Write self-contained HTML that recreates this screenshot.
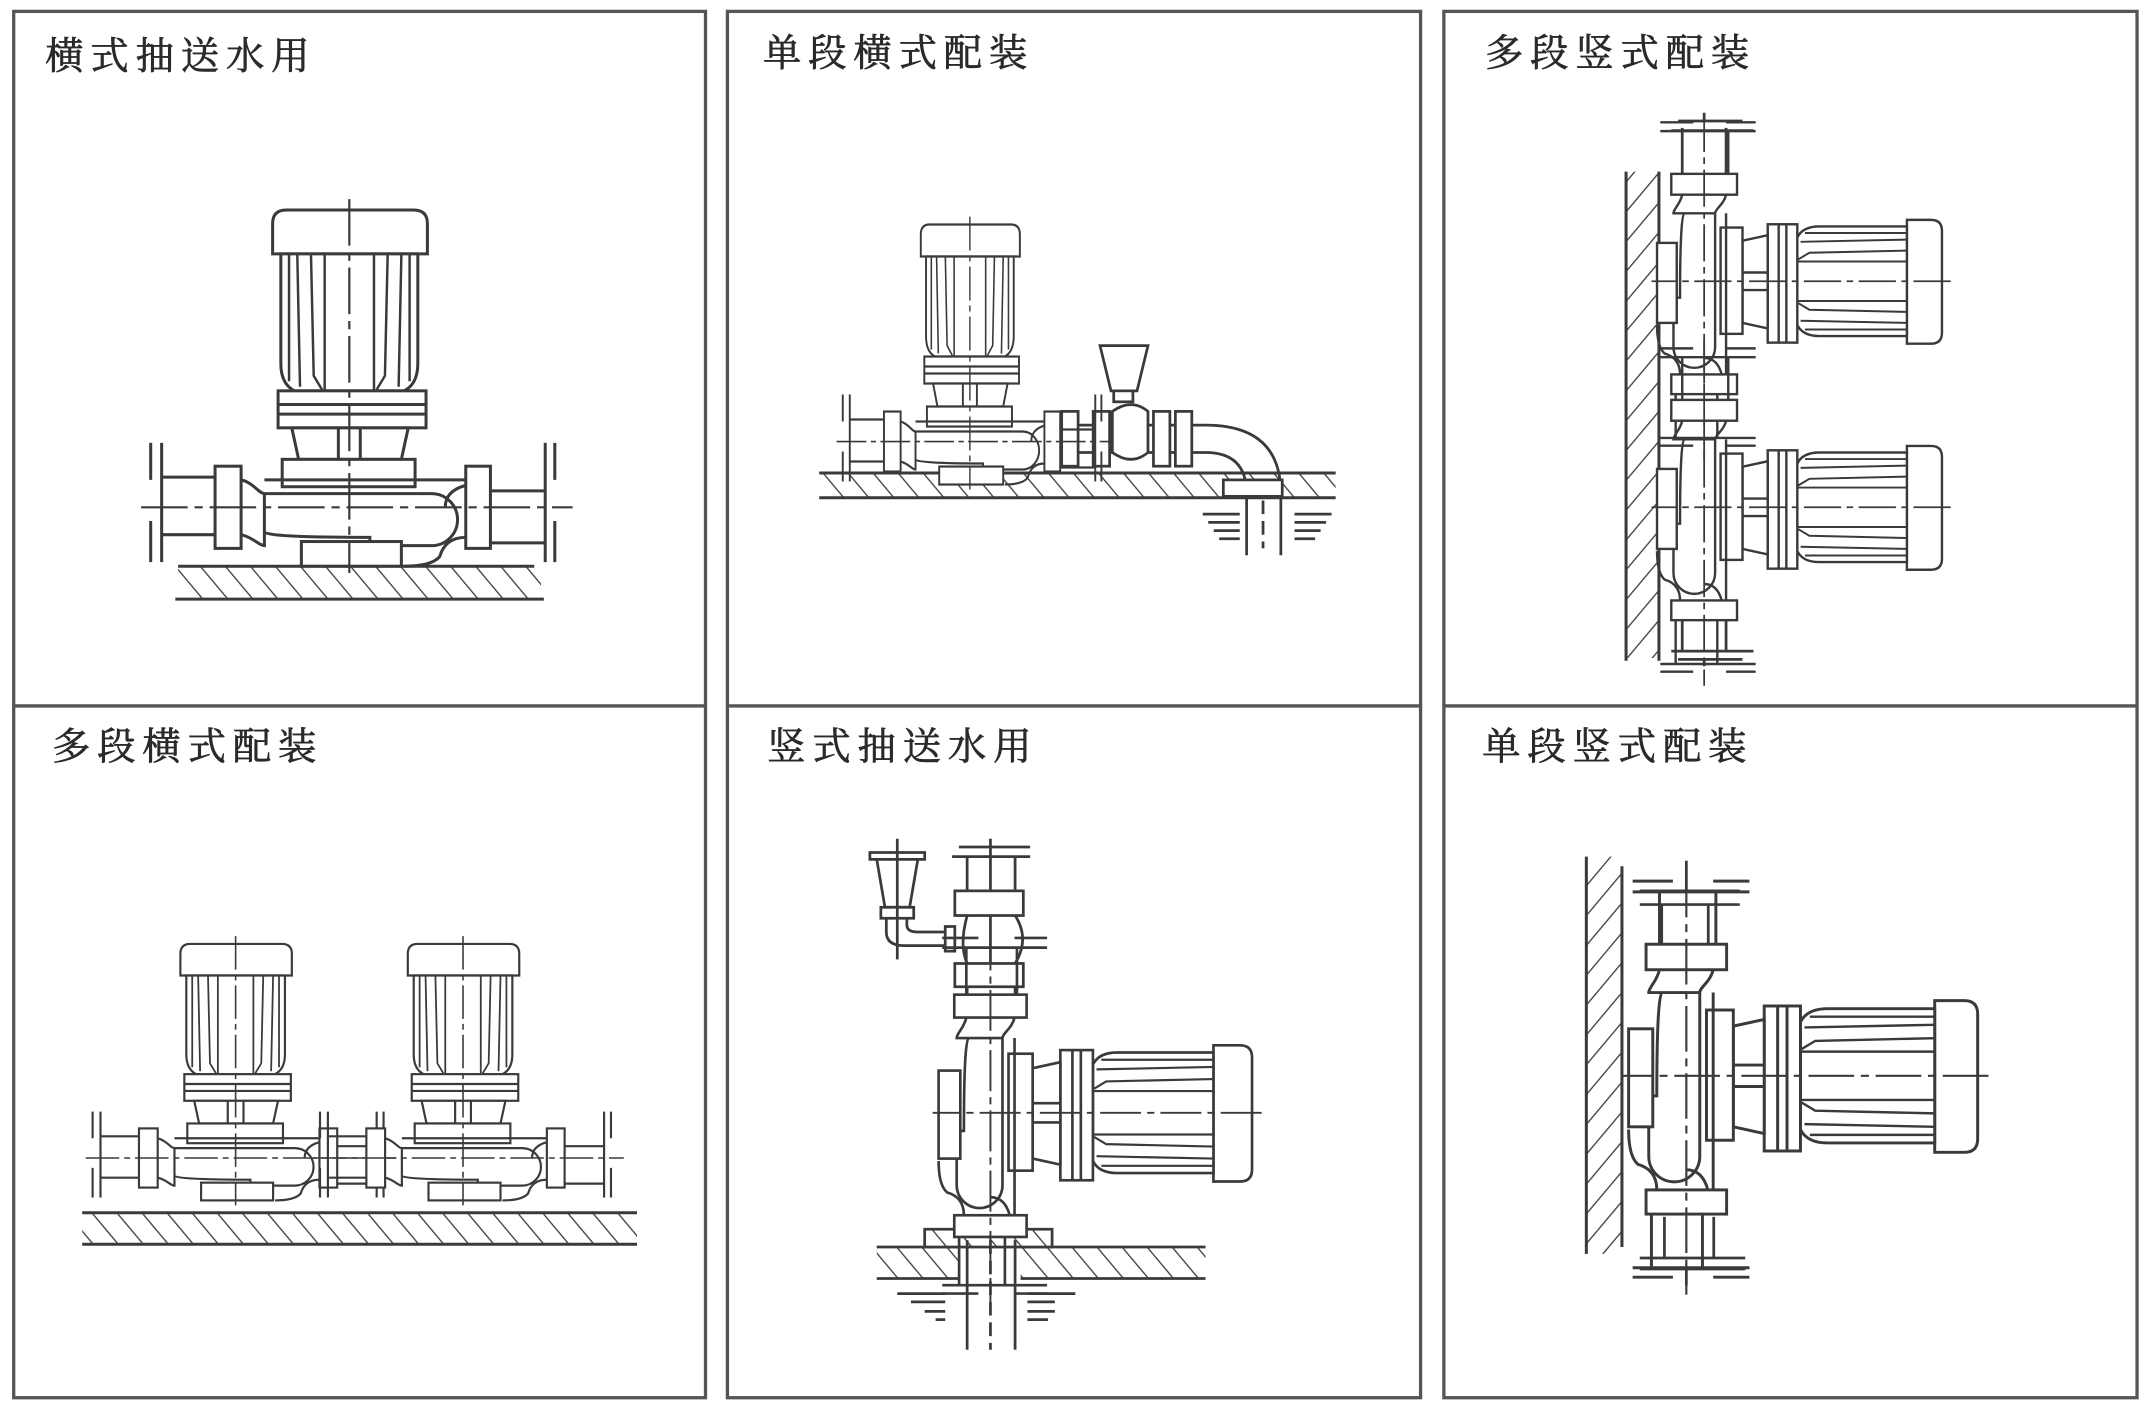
<!DOCTYPE html>
<html><head><meta charset="utf-8">
<style>
html,body{margin:0;padding:0;background:#fff;}
svg{display:block;}
.t{font-family:"Liberation Serif","Noto Serif CJK SC","Noto Sans CJK SC",serif;font-size:28px;fill:#2a2a2a;stroke:#2a2a2a;stroke-width:0.5;letter-spacing:5px;}
</style></head>
<body>
<svg width="2148" height="1405" viewBox="0 0 1568 1025" xmlns="http://www.w3.org/2000/svg">
<defs>
<pattern id="h1" width="14" height="14" patternUnits="userSpaceOnUse" patternTransform="rotate(-40)">
<rect width="14" height="14" fill="#fff"/><line x1="0" y1="0" x2="0" y2="14" stroke="#444" stroke-width="2"/></pattern>
<pattern id="h2" width="14" height="14" patternUnits="userSpaceOnUse" patternTransform="rotate(40)">
<rect width="14" height="14" fill="#fff"/><line x1="0" y1="0" x2="0" y2="14" stroke="#444" stroke-width="2"/></pattern>
<g id="vp" fill="#fff" stroke="#3a3a3a" stroke-width="2.2">
 <path d="M-56,-185 L-56,-207 Q-56,-217 -46,-217 L47,-217 Q57,-217 57,-207 L57,-185 Z"/>
 <path d="M-50,-185 L-50,-105 Q-50,-90 -40,-85 L40,-85 Q50,-90 50,-105 L50,-185 Z"/>
 <g fill="none" stroke-width="1.8">
 <path d="M-44,-185 L-44,-92 M-38,-185 L-36,-88 M-28,-185 L-26,-96 L-20,-86 M-18,-185 L-18,-86 M18,-185 L18,-86 M28,-185 L26,-96 L20,-86 M38,-185 L36,-88 M44,-185 L44,-92"/>
 </g>
 <rect x="-52" y="-85" width="108" height="27"/>
 <path d="M-52,-75 H56 M-52,-68 H56" fill="none"/>
 <path d="M-42,-58 L43,-58 L38,-35 L-37,-35 Z"/>
 <path d="M-8,-58 V-35 M8,-58 V-35" fill="none"/>
 <rect x="-49" y="-35" width="97" height="20"/>
 <path d="M-79,-20 C-70,-18 -66,-10 -62,-10 L60,-10 A19,19 0 0 1 60,28 L15,28 L15,22 Q-60,22 -62,18 L-62,28 C-66,28 -70,22 -79,20" fill="none"/>
 <path d="M-62,-20 H85 M-62,-10 V18" fill="none"/>
 <path d="M85,-16 Q70,-12 70,0 M85,22 Q70,22 66,36 Q60,43 40,43" fill="none"/>
 <path d="M-20,28 L-20,40" fill="none"/>
 <rect x="-35" y="25" width="73" height="18"/>
 <rect x="-98" y="-30" width="19" height="60"/>
 <rect x="85" y="-30" width="18" height="60"/>
 <path d="M-98,-22 H-137 M-98,20 H-137 M103,-12 H143 M103,26 H143" fill="none"/>
 <path d="M-137,-47 V40 M-145,-47 V-20 M-145,10 V40 M143,-47 V40 M150,-47 V-20 M150,10 V40" fill="none"/>
 <path d="M0,-225 V48 M-152,0 H163" fill="none" stroke-width="1.6" stroke-dasharray="34 5 6 5"/>
</g>
</defs>
<rect width="1568" height="1025" fill="#fff"/>
<g fill="none" stroke="#555" stroke-width="2.4">
<rect x="10" y="8" width="505" height="1012"/><line x1="10" y1="515" x2="515" y2="515"/>
<rect x="531" y="8" width="506" height="1012"/><line x1="531" y1="515" x2="1037" y2="515"/>
<rect x="1054" y="8" width="506" height="1012"/><line x1="1054" y1="515" x2="1560" y2="515"/>
</g>
<text class="t" x="33" y="50">横式抽送水用</text>
<text class="t" x="557" y="48">单段横式配装</text>
<text class="t" x="1084" y="48">多段竖式配装</text>
<text class="t" x="38" y="554">多段横式配装</text>
<text class="t" x="560" y="554">竖式抽送水用</text>
<text class="t" x="1082" y="554">单段竖式配装</text>

<!-- panel 1 -->
<rect x="130" y="413" width="265" height="24" fill="url(#h1)" stroke="none"/>
<path d="M130,413 H390 M128,437 H397" stroke="#3a3a3a" stroke-width="2.2"/>
<use href="#vp" transform="translate(255,370)"/>

<!-- panel 2 -->
<rect x="598" y="345" width="377" height="18" fill="url(#h1)"/>
<path d="M598,345 H975 M598,363 H975" stroke="#3a3a3a" stroke-width="2.2"/>
<g fill="#fff" stroke="#3a3a3a" stroke-width="2">
<path d="M770,310 H880 Q935,310 935,360 V405 M770,330 H880 Q910,330 910,360 V405" fill="none"/>
<path d="M922,365 V400" fill="none" stroke-dasharray="10 5"/>
<rect x="775" y="300" width="12" height="40"/><rect x="798" y="300" width="12" height="40"/>
<rect x="842" y="300" width="12" height="40"/><rect x="858" y="300" width="12" height="40"/>
<path d="M812,300 Q826,290 838,300 L838,330 Q826,340 812,330 Z"/>
<path d="M803,252 H838 L830,285 H811 Z"/><rect x="813" y="285" width="14" height="8"/>
<rect x="893" y="350" width="43" height="12"/>
<path d="M878,375 H905 M882,381 H905 M886,387 H905 M890,393 H905 M945,375 H972 M945,381 H968 M945,387 H964 M945,393 H960" fill="none"/>
</g>
<use href="#vp" transform="translate(708,322) scale(0.64,0.73)"/>

<!-- panel 4 -->
<rect x="60" y="885" width="405" height="23" fill="url(#h1)"/>
<path d="M60,885 H465 M60,908 H465" stroke="#3a3a3a" stroke-width="2.2"/>
<use href="#vp" transform="translate(172,845) scale(0.72)"/>
<use href="#vp" transform="translate(338,845) scale(0.72)"/>

<!-- panel 3 -->
<rect x="1187" y="125" width="24" height="355" fill="url(#h2)"/>
<path d="M1187,125 V482 M1211,125 V482" stroke="#3a3a3a" stroke-width="2.2"/>
<g stroke="#3a3a3a" stroke-width="2" fill="none">
<path d="M1228,93 V130 M1260,93 V130 M1220,95 H1280 M1225,88 H1272 M1228,440 V475 M1260,440 V475 M1220,475 H1280 M1225,481 H1272 M1244,82 V88 M1244,480 V486"/>
</g>
<use href="#vp" transform="translate(1244,205) rotate(90) scale(0.8)"/>
<use href="#vp" transform="translate(1244,370) rotate(90) scale(0.8)"/>

<!-- panel 6 -->
<rect x="1158" y="625" width="26" height="290" fill="url(#h2)"/>
<path d="M1158,625 V915 M1184,632 V910" stroke="#3a3a3a" stroke-width="2.2"/>
<g stroke="#3a3a3a" stroke-width="2" fill="none">
<path d="M1213,660 V690 M1247,660 V690 M1197,650 H1270 M1197,660 H1270 M1215,888 V918 M1251,888 V918 M1197,918 H1274 M1197,926 H1274 M1231,628 V650 M1231,926 V938"/>
</g>
<use href="#vp" transform="translate(1231,785) rotate(90) scale(0.98)"/>

<!-- panel 5 -->
<rect x="640" y="910" width="240" height="23" fill="url(#h1)"/>
<rect x="700" y="908" width="45" height="30" fill="#fff"/>
<g stroke="#3a3a3a" stroke-width="2" fill="none">
<path d="M640,910 H700 M745,910 H880 M640,933 H700 M745,933 H880"/>
<rect x="675" y="897" width="93" height="13" fill="url(#h1)"/>
<path d="M706,905 V985 M741,905 V985"/>
<path d="M723,890 V985" stroke-dasharray="10 5"/>
<path d="M655,944 H690 M665,950 H690 M675,957 H690 M683,963 H690 M750,944 H785 M750,950 H770 M750,957 H770 M750,963 H765"/>
<path d="M706,625 V650 M741,625 V650 M695,625 H752 M700,618 H752 M723,612 V720"/>
<rect x="697" y="650" width="50" height="18" fill="#fff"/>
<path d="M706,668 Q700,690 706,703 M741,668 Q752,685 741,703"/>
<rect x="697" y="703" width="50" height="17" fill="#fff"/>
<path d="M706,720 V735 M741,720 V735"/>
<path d="M635,622 H675 V627 H635 Z M640,627 H670 L664,662 H646 Z"/>
<rect x="643" y="662" width="24" height="8" fill="#fff"/>
<path d="M647,670 V680 Q647,690 660,690 H690 M662,670 V675 Q662,680 670,680 H690 M690,676 V694 H697 V676 Z"/>
<path d="M655,612 V700"/>
</g>
<use href="#vp" transform="translate(723,812) rotate(90) scale(0.88)"/>
</svg>
</body></html>
